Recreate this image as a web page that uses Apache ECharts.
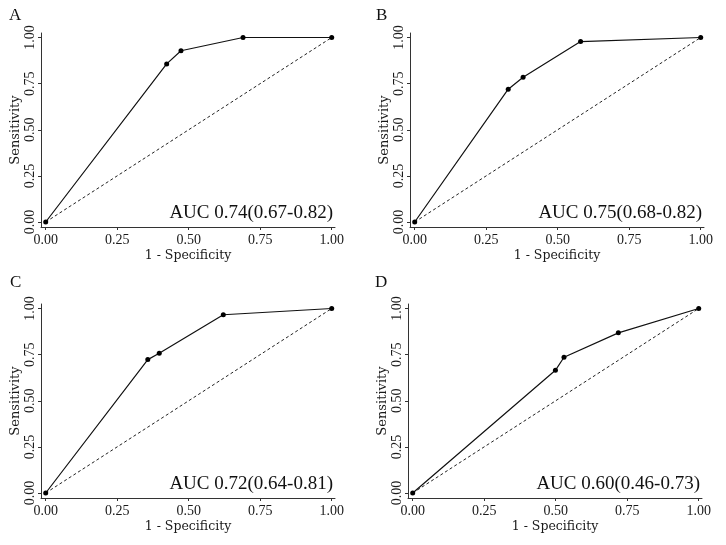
<!DOCTYPE html>
<html>
<head>
<meta charset="utf-8">
<script src="https://cdn.jsdelivr.net/npm/echarts@6/dist/echarts.min.js"></script>
<style>
  html, body { margin: 0; padding: 0; background: #fff; }
  #chart { width: 726px; height: 545px; }
</style>
</head>
<body>
<div id="chart"></div>
<script>
// ---- Data ----
const panelLabels = ['A', 'B', 'C', 'D'];
const aucLabels = ['AUC 0.74(0.67-0.82)', 'AUC 0.75(0.68-0.82)', 'AUC 0.72(0.64-0.81)', 'AUC 0.60(0.46-0.73)'];
const fprA = [0, 0.423, 0.473, 0.690, 1];
const tprA = [0, 0.857, 0.928, 1.000, 1];
const fprB = [0, 0.327, 0.379, 0.580, 1];
const tprB = [0, 0.720, 0.785, 0.978, 1];
const fprC = [0, 0.357, 0.397, 0.621, 1];
const tprC = [0, 0.723, 0.757, 0.966, 1];
const fprD = [0, 0.499, 0.529, 0.719, 1];
const tprD = [0, 0.665, 0.736, 0.868, 1];
const refX = [0, 1];
const refY = [0, 1];
const tickValues = [0, 0.25, 0.5, 0.75, 1];
const xAxisTitle = '1 - Specificity';
const yAxisTitle = 'Sensitivity';

const fprs = [fprA, fprB, fprC, fprD];
const tprs = [tprA, tprB, tprC, tprD];

// ---- Layout ----
const grids = [
  { left: 41, top: 33, width: 294, height: 194 },
  { left: 410, top: 33, width: 294, height: 194 },
  { left: 41, top: 304, width: 294, height: 194 },
  { left: 408, top: 304, width: 294, height: 194 }
];
const letterPos = [[9, 7], [376, 7], [10, 274], [375, 274]];

const axisColor = '#333';
const tickFont = { fontFamily: 'Liberation Serif', fontSize: 14, color: '#1a1a1a' };

const chart = echarts.init(document.getElementById('chart'), null, { renderer: 'canvas' });

const option = {
  backgroundColor: '#fff',
  animation: false,
  grid: grids.map(g => Object.assign({ containLabel: false }, g)),
  xAxis: grids.map((g, i) => ({
    type: 'value',
    gridIndex: i,
    min: -0.0164,
    max: 1.0115,
    name: xAxisTitle,
    nameLocation: 'middle',
    nameGap: 22,
    nameTextStyle: { fontFamily: 'DejaVu Serif', fontSize: 12.5, color: '#1a1a1a' },
    axisLine: { show: true, onZero: false, lineStyle: { color: axisColor, width: 1 } },
    axisTick: { show: true, length: 3, customValues: tickValues, lineStyle: { color: axisColor } },
    axisLabel: Object.assign({
      customValues: tickValues,
      margin: 6,
      formatter: v => v.toFixed(2)
    }, tickFont),
    splitLine: { show: false }
  })),
  yAxis: grids.map((g, i) => ({
    type: 'value',
    gridIndex: i,
    min: -0.0271,
    max: 1.0244,
    name: yAxisTitle,
    nameLocation: 'middle',
    nameGap: 19,
    nameRotate: 90,
    nameTextStyle: { fontFamily: 'DejaVu Serif', fontSize: 13, color: '#1a1a1a' },
    axisLine: { show: true, onZero: false, lineStyle: { color: axisColor, width: 1 } },
    axisTick: { show: true, length: 3, customValues: tickValues, lineStyle: { color: axisColor } },
    axisLabel: Object.assign({
      customValues: tickValues,
      rotate: 90,
      margin: 4,
      formatter: v => v.toFixed(2)
    }, tickFont),
    splitLine: { show: false }
  })),
  series: [],
  graphic: []
};

for (let i = 0; i < 4; i++) {
  option.series.push({
    type: 'line',
    xAxisIndex: i,
    yAxisIndex: i,
    data: refX.map((x, k) => [x, refY[k]]),
    symbol: 'none',
    lineStyle: { color: '#222', width: 1, type: [3, 2.5] },
    silent: true,
    z: 2
  });
  option.series.push({
    type: 'line',
    xAxisIndex: i,
    yAxisIndex: i,
    data: fprs[i].map((x, k) => [x, tprs[i][k]]),
    symbol: 'circle',
    symbolSize: 5,
    itemStyle: { color: '#000' },
    lineStyle: { color: '#111', width: 1.2 },
    silent: true,
    z: 3
  });
  const g = grids[i];
  option.graphic.push({
    type: 'text',
    left: letterPos[i][0],
    top: letterPos[i][1],
    style: { text: panelLabels[i], font: 'normal 17px "Liberation Serif"', fill: '#111' }
  });
  option.graphic.push({
    type: 'text',
    x: g.left + g.width - 2,
    y: g.top + g.height - 4,
    style: {
      text: aucLabels[i],
      font: 'normal 19px "Liberation Serif"',
      fill: '#111',
      align: 'right',
      verticalAlign: 'bottom'
    }
  });
}

chart.setOption(option);
</script>
</body>
</html>
